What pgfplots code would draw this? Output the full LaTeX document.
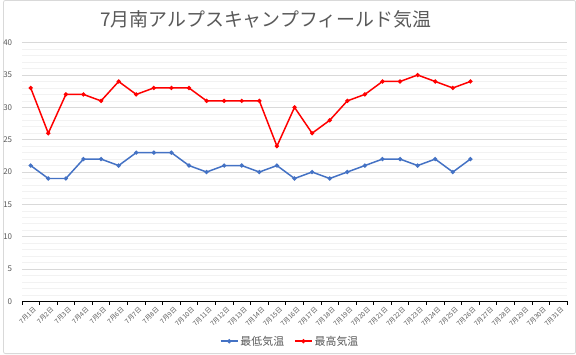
\documentclass[border=0pt]{standalone}
\usepackage{pgfplots}
\pgfplotsset{compat=1.18}
\usepackage{fontspec}
\setmainfont{Noto Sans CJK JP}
\definecolor{lowc}{HTML}{4472C4}
\definecolor{highc}{HTML}{FF0000}
\definecolor{txt}{HTML}{595959}
\definecolor{majg}{HTML}{D9D9D9}
\definecolor{ming}{HTML}{F2F2F2}
\begin{document}
\begin{tikzpicture}[x=1pt,y=1pt]
\draw[majg, line width=0.8pt, rounded corners=2pt] (0.5,0.5) rectangle (575.5,355.5);
\node[txt, font=\fontsize{19}{21}\selectfont] at (264,336) {7月南アルプスキャンプフィールド気温};
\begin{axis}[
  at={(19pt,53pt)}, anchor=south west,
  scale only axis, width=548pt, height=260pt,
  xmin=0.5, xmax=31.5, ymin=0, ymax=40,
  axis x line*=bottom, axis y line*=left,
  x axis line style={black, line width=1.1pt, -},
  y axis line style={draw=none},
  xtick={1,...,31},
  xticklabels={7月1日,7月2日,7月3日,7月4日,7月5日,7月6日,7月7日,7月8日,7月9日,7月10日,7月11日,7月12日,7月13日,7月14日,7月15日,7月16日,7月17日,7月18日,7月19日,7月20日,7月21日,7月22日,7月23日,7月24日,7月25日,7月26日,7月27日,7月28日,7月29日,7月30日,7月31日},
  minor xtick={0.5,1.5,...,31.5},
  major x tick style={draw=none},
  minor x tick style={black, line width=0.8pt},
  tick align=outside, minor tick length=3.5pt,
  x tick label style={rotate=45, anchor=north east, font=\fontsize{6.5}{7}\selectfont, text=txt, inner sep=0.5pt, xshift=1.5pt, yshift=-1.5pt},
  ytick={0,5,...,40},
  ytick style={draw=none}, minor y tick style={draw=none},
  minor y tick num=4,
  ymajorgrids, yminorgrids,
  major grid style={majg, line width=0.6pt},
  minor grid style={ming, line width=0.6pt},
  y tick label style={font=\fontsize{8}{9}\selectfont, text=txt, xshift=-2pt},
  /pgf/number format/assume math mode=true,
  legend columns=2,
  legend style={at={(0.492,-0.154)}, anchor=center, draw=none, fill=none, font=\fontsize{11}{12}\selectfont, text=txt, /tikz/every even column/.append style={column sep=8pt}},
]
\addplot[lowc, line width=1.5pt, mark=*, mark size=1.3pt] coordinates {
(1,21)(2,19)(3,19)(4,22)(5,22)(6,21)(7,23)(8,23)(9,23)(10,21)(11,20)(12,21)(13,21)(14,20)(15,21)(16,19)(17,20)(18,19)(19,20)(20,21)(21,22)(22,22)(23,21)(24,22)(25,20)(26,22)};
\addlegendentry{最低気温}
\addplot[highc, line width=1.5pt, mark=*, mark size=1.3pt] coordinates {
(1,33)(2,26)(3,32)(4,32)(5,31)(6,34)(7,32)(8,33)(9,33)(10,33)(11,31)(12,31)(13,31)(14,31)(15,24)(16,30)(17,26)(18,28)(19,31)(20,32)(21,34)(22,34)(23,35)(24,34)(25,33)(26,34)};
\addlegendentry{最高気温}
\end{axis}
\end{tikzpicture}
\end{document}
